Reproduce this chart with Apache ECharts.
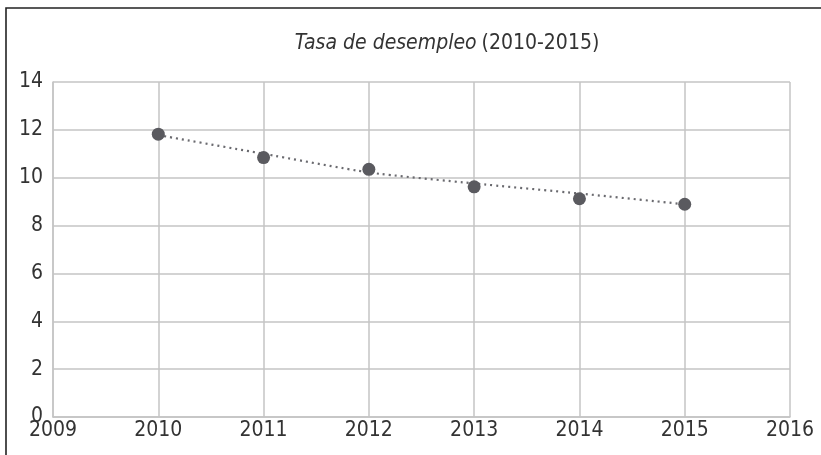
<!DOCTYPE html>
<html>
<head>
<meta charset="utf-8">
<script src="https://cdn.jsdelivr.net/npm/echarts@6/dist/echarts.min.js"></script>
<style>
  html, body { margin: 0; padding: 0; background: #fff; }
  #chart { width: 821px; height: 455px; }
</style>
</head>
<body>
<div id="chart"></div>
<script>
// datos
const years = [2010, 2011, 2012, 2013, 2014, 2015];
const tasa = [11.82, 10.84, 10.35, 9.62, 9.12, 8.89];
const tendencia = [11.78, 11.0, 10.22, 9.76, 9.34, 8.89];
const yTicks = [0, 2, 4, 6, 8, 10, 12, 14];
const xTicks = [2009, 2010, 2011, 2012, 2013, 2014, 2015, 2016];

const FONT = '"Liberation Sans Narrow", "DejaVu Sans Condensed", sans-serif';
const GRID_COLOR = '#c4c4c4';

const chart = echarts.init(document.getElementById('chart'));

chart.setOption({
  animation: false,
  title: {
    text: '{i|Tasa de desempleo} {n|(2010-2015)}',
    left: 442,
    top: 28,
    textAlign: 'center',
    textStyle: {
      fontWeight: 'normal',
      rich: {
        i: { fontFamily: FONT, fontStyle: 'italic', fontWeight: 'normal', fontSize: 21, color: '#333' },
        n: { fontFamily: FONT, fontWeight: 'normal', fontSize: 21, color: '#333' }
      }
    }
  },
  graphic: [{
    type: 'rect',
    shape: { x: 6, y: 8, width: 1000, height: 800 },
    style: { fill: 'none', stroke: '#222', lineWidth: 1.6 },
    silent: true
  }],
  grid: { left: 53, right: 31, top: 82, bottom: 38 },
  xAxis: {
    type: 'value',
    min: xTicks[0],
    max: xTicks[xTicks.length - 1],
    interval: 1,
    axisLine: { show: true, lineStyle: { color: GRID_COLOR, width: 1.5 } },
    axisTick: { show: false },
    splitLine: { show: true, lineStyle: { color: GRID_COLOR, width: 1.5 } },
    axisLabel: {
      margin: 3,
      fontFamily: FONT,
      fontSize: 21,
      color: '#333',
      formatter: v => String(v)
    }
  },
  yAxis: {
    type: 'value',
    min: yTicks[0],
    max: yTicks[yTicks.length - 1],
    interval: 2,
    axisLine: { show: true, lineStyle: { color: GRID_COLOR, width: 1.5 } },
    axisTick: { show: false },
    splitLine: { show: true, lineStyle: { color: GRID_COLOR, width: 1.5 } },
    axisLabel: {
      margin: 10,
      fontFamily: FONT,
      fontSize: 21,
      color: '#333'
    }
  },
  series: [
    {
      type: 'line',
      data: years.map((y, i) => [y, tendencia[i]]),
      showSymbol: false,
      smooth: 0.2,
      lineStyle: { color: '#6a6a6f', width: 2.2, type: [2, 4] },
      z: 2
    },
    {
      type: 'scatter',
      data: years.map((y, i) => [y, tasa[i]]),
      symbol: 'circle',
      symbolSize: 13,
      itemStyle: { color: '#5a5a5f', opacity: 1 },
      z: 3
    }
  ]
});
</script>
</body>
</html>
